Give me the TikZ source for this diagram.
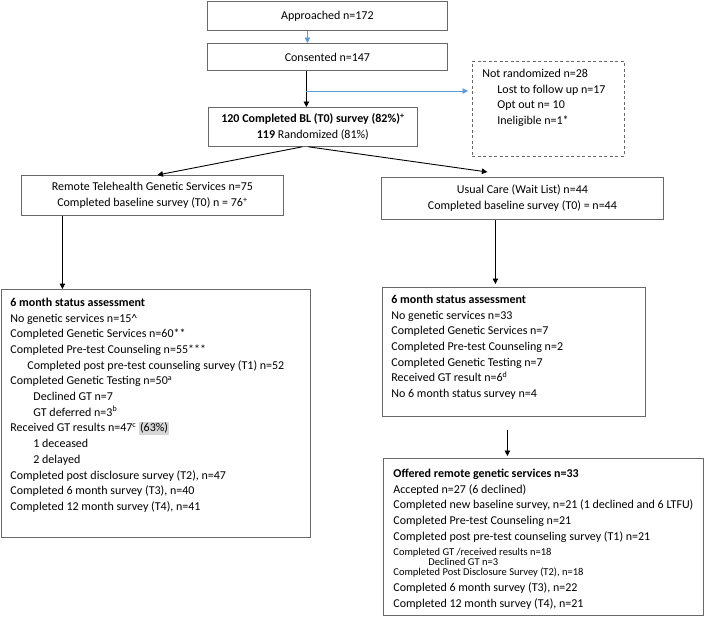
\documentclass[tikz,border=0pt]{standalone}
\usepackage{fontspec}
\setmainfont{Carlito}
\usepackage{tikz}
\usetikzlibrary{arrows.meta, positioning}

\definecolor{flowblue}{RGB}{91,155,213}
\definecolor{boxgray}{RGB}{105,105,105}
\definecolor{marked}{RGB}{215,215,215}
\newcommand{\toptext}[3]{\begin{minipage}[t][#1][t]{#2}\raggedright\strut #3\end{minipage}}

\begin{document}
\begin{tikzpicture}[x=1pt, y=-1pt, font=\fontsize{12}{15.7}\selectfont,
    box/.style={draw=boxgray, line width=0.8pt, inner sep=0pt, align=center, anchor=north west,
        font=\fontsize{12}{16}\selectfont},
    listbox/.style={draw=boxgray, line width=0.8pt, inner xsep=9pt, anchor=north west},
    flow/.style={-{Triangle[width=5.5pt,length=5.5pt]}, line width=0.9pt},
    side/.style={flow, color=flowblue}]
    \useasboundingbox (0,0) rectangle (709,625);

    \node[box, minimum width=240pt, minimum height=29pt] (appr) at (207,1) {Approached n=172};
    \node[box, minimum width=240pt, minimum height=27pt] (cons) at (207,43) {Consented n=147};
    \node[box, minimum width=209pt, minimum height=39pt] (bl) at (208,107)
        {\textbf{120 Completed BL (T0) survey (82\%)\textsuperscript{+}}\\ \textbf{119} Randomized (81\%)};

    \node[listbox, dash pattern=on 3pt off 2.5pt, inner xsep=10pt, inner ysep=5pt] (notrand) at (472,61)
        {\toptext{85pt}{132pt}{Not randomized n=28\\
        \hspace*{15pt}Lost to follow up n=17\\
        \hspace*{15pt}Opt out n= 10\\
        \hspace*{15pt}Ineligible n=1*}};

    \node[box, minimum width=262pt, minimum height=40pt] (remote) at (21,175)
        {Remote Telehealth Genetic Services n=75\\ Completed baseline survey (T0) n = 76\textsuperscript{+}};
    \node[box, minimum width=282pt, minimum height=42pt] (usual) at (381,177)
        {Usual Care (Wait List) n=44\\ Completed baseline survey (T0) = n=44};

    \node[listbox, inner ysep=6pt] (lbig) at (1,289)
        {\toptext{236pt}{291pt}{\textbf{6 month status assessment}\\
        No genetic services n=15\textasciicircum\\
        Completed Genetic Services n=60**\\
        Completed Pre-test Counseling n=55***\\
        \hspace*{17pt}Completed post pre-test counseling survey (T1) n=52\\
        Completed Genetic Testing n=50\textsuperscript{a}\\
        \hspace*{23pt}Declined GT n=7\\
        \hspace*{23pt}GT deferred n=3\textsuperscript{b}\\
        Received GT results n=47\textsuperscript{c} {\fboxsep=1pt\colorbox{marked}{(63\%)}}\\
        \hspace*{23pt}1 deceased\\
        \hspace*{23pt}2 delayed\\
        Completed post disclosure survey (T2), n=47\\
        Completed 6 month survey (T3), n=40\\
        Completed 12 month survey (T4), n=41}};

    \node[listbox, inner ysep=5pt] (rmid) at (382,287)
        {\toptext{119pt}{245pt}{\textbf{6 month status assessment}\\
        No genetic services n=33\\
        Completed Genetic Services n=7\\
        Completed Pre-test Counseling n=2\\
        Completed Genetic Testing n=7\\
        Received GT result n=6\textsuperscript{d}\\
        No 6 month status survey n=4}};

    \node[listbox, inner xsep=10pt, inner ysep=8pt] (rbot) at (383,458)
        {\toptext{141pt}{300pt}{\textbf{Offered remote genetic services n=33}\par
        Accepted n=27 (6 declined)\par
        Completed new baseline survey, n=21 (1 declined and 6 LTFU)\par
        Completed Pre-test Counseling n=21\par
        Completed post pre-test counseling survey (T1) n=21\par
        \vspace{4.5pt}{\fontsize{10.5}{10.3}\selectfont Completed GT /received results n=18\par
        \hspace*{35pt}Declined GT n=3\par
        Completed Post Disclosure Survey (T2), n=18\par}
        Completed 6 month survey (T3), n=22\par
        Completed 12 month survey (T4), n=21}};

    \draw[side] ([xshift=-20pt]appr.south) -- ([xshift=-20pt]cons.north);
    \draw[flow] ([xshift=-21pt]cons.south) -- ([xshift=-6.5pt]bl.north);
    \coordinate (split) at (306,91);
    \draw[side, shorten >=4pt] (split) -- (split -| notrand.west);

    \draw[flow] ([xshift=-10.5pt]bl.south) -- ([xshift=5pt]remote.north);
    \draw[flow] ([xshift=-4.5pt]bl.south) -- ([xshift=-35pt,yshift=5pt]usual.north);

    \draw[flow] ([xshift=-90pt]remote.south) -- ([xshift=-93.5pt]lbig.north);
    \draw[flow] ([xshift=-27pt]usual.south) -- ([xshift=-18.5pt,yshift=3pt]rmid.north);
    \draw[flow] ([xshift=-6.5pt,yshift=-13pt]rmid.south) -- ([xshift=-36pt,yshift=2pt]rbot.north);
\end{tikzpicture}
\end{document}
